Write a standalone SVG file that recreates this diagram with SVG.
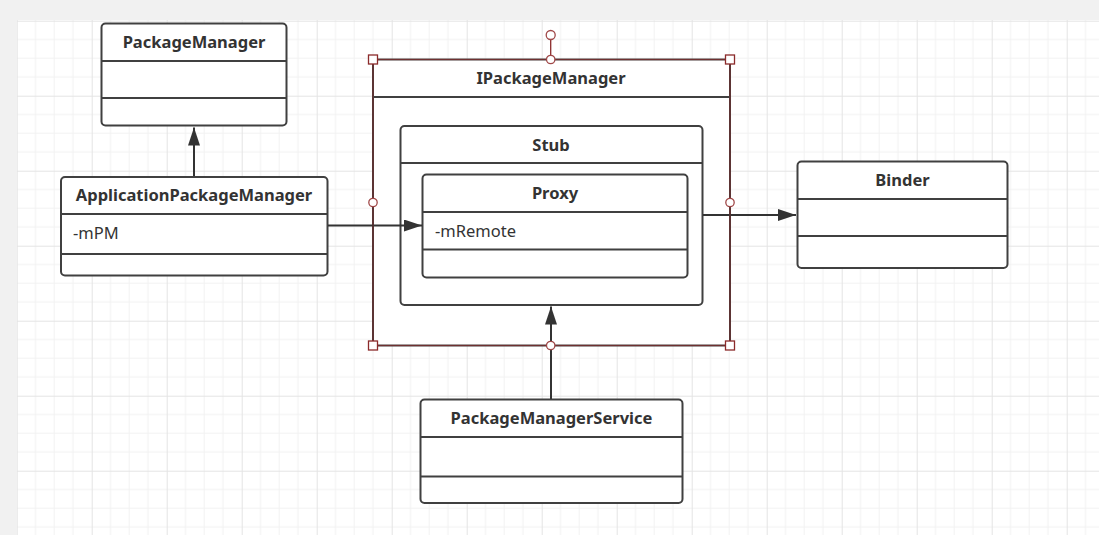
<svg xmlns="http://www.w3.org/2000/svg" width="1099" height="535" viewBox="0 0 1099 535">
<defs>
<pattern id="grid" patternUnits="userSpaceOnUse" x="16.7" y="20.7" width="75" height="75">
<rect width="75" height="75" fill="#ffffff"/>
<path d="M18.75 0V75M37.5 0V75M56.25 0V75M0 18.75H75M0 37.5H75M0 56.25H75" stroke="#f2f2f2" stroke-width="1" fill="none"/>
<path d="M0.5 0V75M0 0.5H75" stroke="#e4e4e4" stroke-width="1" fill="none"/>
</pattern>
<marker id="arr" markerWidth="20" markerHeight="14" refX="18" refY="6" orient="auto" markerUnits="userSpaceOnUse">
<path d="M0 0L18 6L0 12Z" fill="#333333"/>
</marker>
</defs>
<style>
.box{fill:#ffffff;stroke:#404040;stroke-width:2}
.sep{stroke:#404040;stroke-width:2}
.title{font-family:"Noto Sans","Open Sans","Liberation Sans",sans-serif;font-weight:bold;font-size:16.5px;fill:#333333;text-anchor:middle}
.attr{font-family:"Noto Sans","Open Sans","Liberation Sans",sans-serif;font-size:16.5px;fill:#333333}
.edge{stroke:#333333;stroke-width:2;fill:none}
.hs{fill:#ffffff;stroke:#8b2a2a;stroke-width:1.3}
.hc{fill:#ffffff;stroke:#a04848;stroke-width:1.3}
</style>
<rect width="1099" height="535" fill="#f1f1f1"/>
<rect x="17" y="20" width="1082" height="515" fill="url(#grid)"/>

<g id="PackageManager">
<rect class="box" x="101.5" y="23.5" width="185" height="102" rx="4"/>
<line class="sep" x1="101.5" y1="61" x2="286.5" y2="61"/>
<line class="sep" x1="101.5" y1="98" x2="286.5" y2="98"/>
<text class="title" x="194" y="48">PackageManager</text>
</g>

<g id="ApplicationPackageManager">
<rect class="box" x="61" y="177" width="266.5" height="98.5" rx="4"/>
<line class="sep" x1="61" y1="214" x2="327.5" y2="214"/>
<line class="sep" x1="61" y1="254" x2="327.5" y2="254"/>
<text class="title" x="194" y="201">ApplicationPackageManager</text>
<text class="attr" x="73" y="239">-mPM</text>
</g>

<g id="IPackageManager">
<rect x="373" y="59.5" width="357" height="286" fill="#ffffff" stroke="#4a3a3a" stroke-width="2"/>
<line class="sep" x1="373" y1="97" x2="730" y2="97"/>
<text class="title" x="551" y="84">IPackageManager</text>
</g>

<g id="Stub">
<rect class="box" x="400.5" y="126" width="302" height="179" rx="4"/>
<line class="sep" x1="400.5" y1="163" x2="702.5" y2="163"/>
<text class="title" x="551" y="151">Stub</text>
</g>

<g id="Proxy">
<rect class="box" x="422.5" y="174.5" width="265" height="103" rx="4"/>
<line class="sep" x1="422.5" y1="212" x2="687.5" y2="212"/>
<line class="sep" x1="422.5" y1="249.5" x2="687.5" y2="249.5"/>
<text class="title" x="555" y="198.5">Proxy</text>
<text class="attr" x="435" y="237">-mRemote</text>
</g>

<g id="Binder">
<rect class="box" x="797.5" y="161.5" width="210" height="106.5" rx="4"/>
<line class="sep" x1="797.5" y1="199" x2="1007.5" y2="199"/>
<line class="sep" x1="797.5" y1="236" x2="1007.5" y2="236"/>
<text class="title" x="902.5" y="186">Binder</text>
</g>

<g id="PackageManagerService">
<rect class="box" x="420.5" y="399.5" width="262" height="103.5" rx="4"/>
<line class="sep" x1="420.5" y1="437" x2="682.5" y2="437"/>
<line class="sep" x1="420.5" y1="476.5" x2="682.5" y2="476.5"/>
<text class="title" x="551.5" y="424">PackageManagerService</text>
</g>

<g id="connectors">
<line class="edge" x1="194" y1="176" x2="194" y2="127.5" marker-end="url(#arr)"/>
<line class="edge" x1="328" y1="225.5" x2="422" y2="225.5" marker-end="url(#arr)"/>
<line class="edge" x1="703" y1="215" x2="796" y2="215" marker-end="url(#arr)"/>
<line class="edge" x1="551" y1="399" x2="551" y2="306.5" marker-end="url(#arr)"/>
</g>

<g id="selection">
<rect x="373" y="59.5" width="357" height="286" fill="none" stroke="#8b2a2a" stroke-width="0.8" stroke-opacity="0.7"/>
<line x1="550.7" y1="39.5" x2="550.7" y2="59.5" stroke="#8b2a2a" stroke-width="1.3"/>
<circle class="hc" cx="550.7" cy="35" r="4.5"/>
<rect class="hs" x="368.5" y="55" width="9" height="9"/>
<rect class="hs" x="725.5" y="55" width="9" height="9"/>
<rect class="hs" x="368.5" y="341" width="9" height="9"/>
<rect class="hs" x="725.5" y="341" width="9" height="9"/>
<circle class="hc" cx="550.7" cy="59.5" r="4.2"/>
<circle class="hc" cx="550.7" cy="345.5" r="4.2"/>
<circle class="hc" cx="373" cy="202.5" r="4.2"/>
<circle class="hc" cx="730" cy="202.5" r="4.2"/>
</g>
</svg>
